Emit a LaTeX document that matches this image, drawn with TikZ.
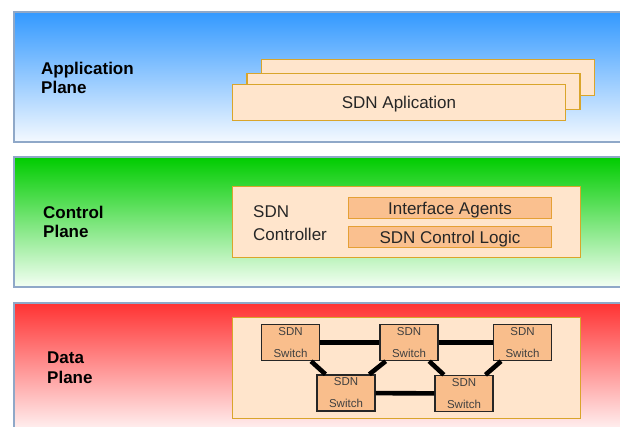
\documentclass[tikz,border=0pt]{standalone}
\usepackage{fontspec}
\setmainfont{Liberation Sans}
\definecolor{appblue}{HTML}{3399FF}
\definecolor{appwhite}{HTML}{F4F9FF}
\definecolor{ctlgreen}{HTML}{00CC00}
\definecolor{ctlwhite}{HTML}{F4FFF4}
\definecolor{datared}{HTML}{FF3333}
\definecolor{datawhite}{HTML}{FFF4F4}
\definecolor{bandline}{HTML}{8FA8C8}
\definecolor{peach}{HTML}{FFE5CC}
\definecolor{gold}{HTML}{D9A52B}
\definecolor{orangefill}{HTML}{FAC08F}
\definecolor{orangeline}{HTML}{E5A035}
\definecolor{switchfill}{HTML}{F9BE8C}
\colorlet{inktext}{black!85}
\tikzstyle{planeband}=[draw=bandline,line width=1.2pt]
\tikzstyle{planelabel}=[anchor=base west,align=left,inner sep=0pt,font=\fontsize{17}{19.5}\selectfont\bfseries]
\tikzstyle{peachbox}=[draw=gold,fill=peach,line width=1.3pt,inner sep=0pt]
\tikzstyle{appbox}=[peachbox,minimum width=333pt,minimum height=36pt,text depth=0pt,font=\fontsize{17}{20}\selectfont,text=inktext]
\tikzstyle{ctltext}=[anchor=base west,align=left,inner sep=0pt,font=\fontsize{17}{23}\selectfont,text=inktext]
\tikzstyle{agentbox}=[draw=orangeline,fill=orangefill,line width=1.3pt,minimum width=203pt,minimum height=21pt,inner sep=0pt,text depth=0pt,font=\fontsize{17}{20}\selectfont,text=inktext]
\tikzstyle{sdnswitch}=[draw=black!85,fill=switchfill,line width=1.4pt,minimum width=58pt,minimum height=36pt,inner sep=0pt,align=center,font=\fontsize{11.5}{22}\selectfont,text=black!75]
\tikzstyle{swlink}=[line width=4.6pt,black]

\begin{document}
\begin{tikzpicture}[x=1pt,y=-1pt]
  \useasboundingbox (0,0) rectangle (620,427);

  % PLANES
  \shade[planeband,top color=appblue,bottom color=appwhite] (14,12) rectangle (625,142);
  \shade[planeband,top color=ctlgreen,bottom color=ctlwhite] (14,157) rectangle (625,287);
  \shade[planeband,top color=datared,bottom color=datawhite] (14,303) rectangle (625,432);
  \node[planelabel] (applabel) at (41,94) {Application\\Plane}; % base = last line
  \node[planelabel] (ctlplane) at (43,238) {Control\\Plane};
  \node[planelabel] (dataplane) at (47,383) {Data\\Plane};

  % APPLICATIONS
  \node[appbox] (app3) at (428,77.5) {}; % back
  \node[appbox] (app2) at (413.5,91.5) {}; % middle
  \node[appbox] (app1) at (399,102.5) {SDN Aplication}; % front

  % CONTROLLER
  \node[peachbox,minimum width=348pt,minimum height=71pt] (ctl) at (406.5,222) {};
  \node[ctltext] (ctllabel) at (253,241) {SDN\\Controller};
  \node[agentbox] (agents) at (450,208) {Interface Agents};
  \node[agentbox] (logic) at (450,237) {SDN Control Logic};

  % SWITCHES
  \node[peachbox,minimum width=348pt,minimum height=101pt] (net) at (406.5,368) {};
  \node[sdnswitch] (s1) at (290.5,342.5) {SDN\\Switch};
  \node[sdnswitch] (s2) at (409,342.5) {SDN\\Switch};
  \node[sdnswitch] (s3) at (522.5,342.5) {SDN\\Switch};
  \node[sdnswitch] (s4) at (346,393) {SDN\\Switch};
  \node[sdnswitch] (s5) at (464,393.5) {SDN\\Switch};
  \foreach \a/\b in {s1/s2,s2/s3,s1/s4,s2/s4,s2/s5,s3/s5,s4/s5}
    \draw[swlink] (\a) -- (\b);
\end{tikzpicture}
\end{document}
